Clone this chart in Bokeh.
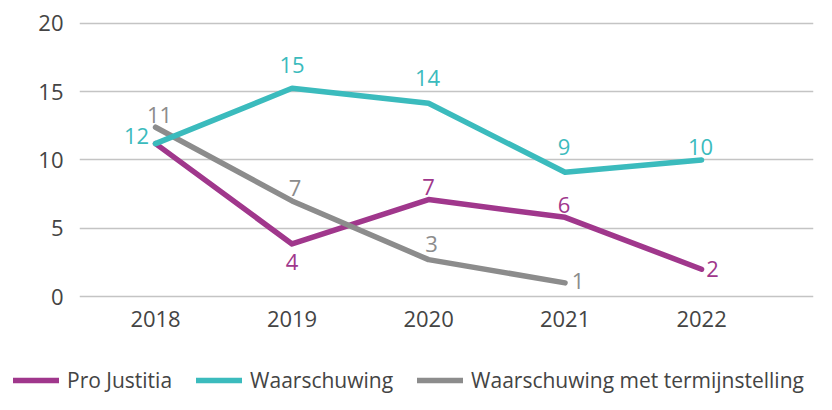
from bokeh.plotting import figure
from bokeh.layouts import column
from bokeh.models import ColumnDataSource, Legend, LegendItem, FixedTicker, Range1d
from bokeh.core.properties import value
from bokeh.embed import file_html
from bokeh.resources import INLINE

# ---- data ----
years = [2018, 2019, 2020, 2021, 2022]
year_labels = ["2018", "2019", "2020", "2021", "2022"]
y_ticks = [0, 5, 10, 15, 20]

pro_justitia = [11.2, 3.85, 7.1, 5.8, 2.0]
pro_justitia_labels = ["", "4", "7", "6", "2"]

waarschuwing = [11.2, 15.25, 14.15, 9.1, 10.0]
waarschuwing_labels = ["12", "15", "14", "9", "10"]

termijn_years = [2018, 2019, 2020, 2021]
termijn = [12.4, 7.0, 2.7, 1.0]
termijn_labels = ["11", "7", "3", "1"]

series_names = ["Pro Justitia", "Waarschuwing", "Waarschuwing met termijnstelling"]

# ---- label placement (screen px offsets) ----
pj_dx = [0, 0, 0, -1, 11]
pj_dy = [0, 18, -13, -12, 0]
w_dx = [-19, 0, -1, -1, -1]
w_dy = [-8, -23, -25, -25, -13]
t_dx = [4, 3, 3, 13]
t_dy = [-12, -13, -16, -2]

PURPLE = "#A0378C"
TEAL = "#3BBBBD"
GREY = "#8C8C8C"
TEXT = "#444444"
FONT = "Open Sans"
LW = 5.5

p = figure(width=816, height=355, output_backend="svg", toolbar_location=None,
           x_range=Range1d(2017.443, 2022.82), y_range=Range1d(-0.293, 20.73),
           min_border_left=79, min_border_right=3, min_border_top=13, min_border_bottom=55)
p.outline_line_color = None
p.background_fill_color = "white"
p.border_fill_color = "white"

p.xgrid.grid_line_color = None
p.ygrid.ticker = FixedTicker(ticks=y_ticks)
p.ygrid.grid_line_color = "#C4C4C4"
p.ygrid.grid_line_width = 1.5

for ax in (p.xaxis[0], p.yaxis[0]):
    ax.axis_line_color = None
    ax.major_tick_line_color = None
    ax.minor_tick_line_color = None
    ax.major_tick_out = 0
    ax.major_tick_in = 0
    ax.major_label_text_font = FONT
    ax.major_label_text_font_size = "22px"
    ax.major_label_text_color = TEXT

p.xaxis.ticker = FixedTicker(ticks=years)
p.xaxis.major_label_overrides = {y: l for y, l in zip(years, year_labels)}
p.xaxis.major_label_standoff = 10
p.yaxis.ticker = FixedTicker(ticks=y_ticks)
p.yaxis.major_label_standoff = 16

line_kw = dict(line_width=LW, line_cap="round", line_join="round")
p.line(years, pro_justitia, line_color=PURPLE, **line_kw)
p.line(termijn_years, termijn, line_color=GREY, **line_kw)
p.line(years, waarschuwing, line_color=TEAL, **line_kw)

def labels(xs, ys, ts, dx, dy, color):
    src = ColumnDataSource(dict(x=xs, y=ys, t=ts, dx=dx, dy=dy))
    p.text(x="x", y="y", text="t", x_offset="dx", y_offset="dy", source=src,
           text_font=value(FONT), text_font_size="22px", text_color=color,
           text_align="center", text_baseline="middle")

labels(years, pro_justitia, pro_justitia_labels, pj_dx, pj_dy, PURPLE)
labels(years, waarschuwing, waarschuwing_labels, w_dx, w_dy, TEAL)
labels(termijn_years, termijn, termijn_labels, t_dx, t_dy, GREY)

# ---- legend strip (separate figure below the chart) ----
lg = figure(width=816, height=39, output_backend="svg", toolbar_location=None,
            x_range=Range1d(0, 1), y_range=Range1d(0, 1),
            x_axis_location=None, y_axis_location=None,
            min_border=0, min_border_left=0, min_border_right=0,
            min_border_top=0, min_border_bottom=0)
lg.frame_align = False
lg.outline_line_color = None
lg.grid.visible = False
# legend proxies: same series, placed outside the strip's visible range
proxy = ColumnDataSource(dict(x=[years[0], years[-1]], y=[y_ticks[-1], y_ticks[-1]]))
g_pj = lg.line("x", "y", source=proxy, line_color=PURPLE, **line_kw)
g_w = lg.line("x", "y", source=proxy, line_color=TEAL, **line_kw)
g_t = lg.line("x", "y", source=proxy, line_color=GREY, **line_kw)

legend = Legend(items=[LegendItem(label=series_names[0], renderers=[g_pj]),
                       LegendItem(label=series_names[1], renderers=[g_w]),
                       LegendItem(label=series_names[2], renderers=[g_t])],
                location=(13, 0), orientation="horizontal",
                background_fill_alpha=0, border_line_color=None,
                padding=0, margin=0, spacing=24, label_standoff=8,
                glyph_width=46, glyph_height=24, label_height=24,
                label_text_font=FONT, label_text_font_size="21px", label_text_color=TEXT)
lg.add_layout(legend)

layout = column(p, lg, spacing=0)
open("out.html", "w").write(file_html(layout, INLINE))
